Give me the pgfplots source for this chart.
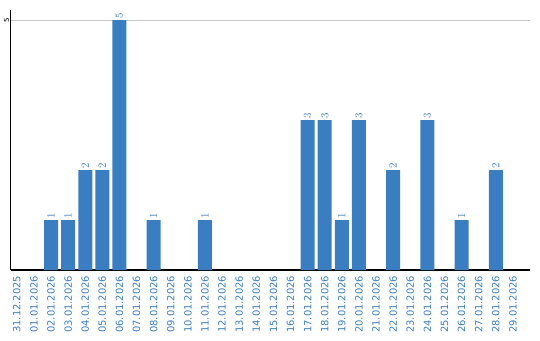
\documentclass[border=0pt]{standalone}
\usepackage{pgfplots}
\pgfplotsset{compat=1.18}
\usepackage{fontspec}
\setmainfont{DejaVu Sans}
\definecolor{barblue}{RGB}{58,125,193}
\definecolor{lblblue}{RGB}{61,127,193}
\definecolor{gridgray}{RGB}{200,200,200}
\begin{document}
\begin{tikzpicture}[x=1bp,y=1bp]
\path[use as bounding box] (0,0) rectangle (540,340);
\begin{axis}[
  at={(10.5bp,70bp)}, anchor=south west,
  scale only axis, width=519.5bp, height=260bp,
  xmin=-0.37, xmax=30.0, ymin=0, ymax=5.2,
  axis x line*=bottom, axis y line*=left,
  axis line style={black, line width=1.2pt},
  x axis line style={-}, y axis line style={-},
  xtick={0,...,29},
  xticklabels={31.12.2025,01.01.2026,02.01.2026,03.01.2026,04.01.2026,05.01.2026,06.01.2026,07.01.2026,08.01.2026,09.01.2026,10.01.2026,11.01.2026,12.01.2026,13.01.2026,14.01.2026,15.01.2026,16.01.2026,17.01.2026,18.01.2026,19.01.2026,20.01.2026,21.01.2026,22.01.2026,23.01.2026,24.01.2026,25.01.2026,26.01.2026,27.01.2026,28.01.2026,29.01.2026},
  xticklabel style={rotate=90, anchor=east, font=\fontsize{10}{12}\selectfont, text=lblblue, inner sep=0pt, xshift=-5.5bp},
  xtick pos=bottom, major tick length=0pt,
  ytick={5}, yticklabels={5},
  yticklabel style={rotate=90, anchor=south, font=\fontsize{7}{8}\selectfont, text=black, inner sep=1pt},
  ymajorgrids, grid style={gridgray, line width=0.9pt},
  ybar, bar width=14bp,
  tick style={draw=none},
  nodes near coords,
  every node near coord/.append style={rotate=90, anchor=west, font=\fontsize{11}{13}\selectfont, text=lblblue, inner sep=1pt},
  clip=false,
]
\addplot[fill=barblue, draw=none] coordinates {
(2,1) (3,1) (4,2) (5,2) (6,5) (8,1) (11,1) (17,3) (18,3) (19,1) (20,3) (22,2) (24,3) (26,1) (28,2)
};
\end{axis}
\end{tikzpicture}
\end{document}
